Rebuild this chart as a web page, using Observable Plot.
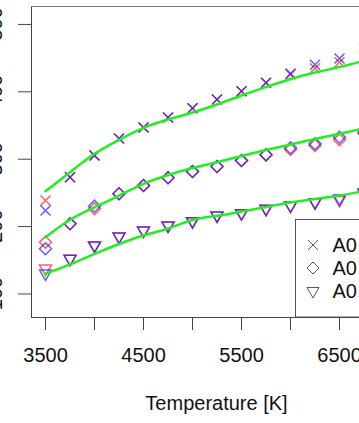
<!DOCTYPE html>
<html>
<head>
<meta charset="utf-8">
<script src="https://cdn.jsdelivr.net/npm/d3@7"></script>
<script src="https://cdn.jsdelivr.net/npm/@observablehq/plot@0.6"></script>
<style>
  html, body { margin: 0; padding: 0; background: #fff; overflow: hidden; }
  svg { overflow: hidden; display: block; }
</style>
</head>
<body>
<div id="chart"></div>
<script>
// ---- data ----
const temps = [3500, 3750, 4000, 4250, 4500, 4750, 5000, 5250, 5500, 5750, 6000, 6250, 6500, 6750];

// series "×"
const crossRed  = [238.7, 273.3, 305.5, 330.7, 347.0, 361.9, 375.7, 388.6, 400.9, 413.4, 425.7, 435.0, 443.9, 462.7];
const crossBlue = [223.9, 273.3, 305.5, 330.7, 347.0, 361.9, 375.7, 388.6, 400.9, 413.4, 427.2, 440.1, 449.4, 465.7];
const crossFit  = [252.5, 280.7, 308.0, 328.8, 346.6, 358.9, 369.3, 381.2, 394.5, 407.1, 419.0, 428.6, 436.8, 446.4];

// series "◇"
const diamRed  = [176.9, 204.2, 226.4, 248.7, 261.0, 272.4, 281.8, 289.2, 298.1, 306.5, 314.4, 320.3, 328.8, 338.1];
const diamBlue = [167.1, 204.2, 230.3, 248.7, 261.0, 272.4, 281.8, 289.2, 298.1, 306.5, 316.9, 322.9, 332.6, 340.1];
const diamFit  = [184.3, 210.1, 228.8, 246.1, 263.5, 276.6, 286.9, 295.6, 304.8, 313.7, 321.8, 330.0, 337.7, 345.6];

// series "▽"
const triRed  = [137.8, 152.2, 172.0, 185.3, 194.2, 201.6, 208.0, 216.5, 219.9, 226.4, 231.3, 236.2, 239.5, 249.1];
const triBlue = [130.4, 152.2, 172.0, 185.3, 194.2, 201.6, 208.0, 216.5, 219.9, 226.4, 231.3, 236.2, 242.1, 251.0];
const triFit  = [130.0, 143.8, 159.6, 174.2, 186.8, 197.2, 209.8, 216.0, 222.4, 229.1, 235.8, 241.0, 246.1, 252.8];

const xTicks = [3500, 4000, 4500, 5000, 5500, 6000, 6500, 7000];
const xTickLabels = [3500, 4500, 5500, 6500];
const yTicks = [100, 200, 300, 400, 500];
const xTitle = "Temperature [K]";
const legendLabels = ["A0", "A0", "A0"];

// ---- table ----
const rows = temps.map((T, i) => ({
  T,
  crossRed: crossRed[i], crossBlue: crossBlue[i], crossFit: crossFit[i],
  diamRed: diamRed[i], diamBlue: diamBlue[i], diamFit: diamFit[i],
  triRed: triRed[i], triBlue: triBlue[i], triFit: triFit[i]
}));

const FONT = "'Liberation Sans', Arial, Helvetica, sans-serif";
const RED = "#ff0000", BLUE = "#0000ff", GREEN = "#22ee22";
const op = 0.62, sw = 1.5;

const series = [
  {red: "crossRed", blue: "crossBlue", fit: "crossFit", symbol: "times", r: 4.62, rotate: 0},
  {red: "diamRed", blue: "diamBlue", fit: "diamFit", symbol: "diamond2", r: 5.4, rotate: 0},
  {red: "triRed", blue: "triBlue", fit: "triFit", symbol: "triangle2", r: 5.73, rotate: 180}
];

const pointMarks = [];
for (const s of series) {
  pointMarks.push(Plot.dot(rows, {x: "T", y: s.red, symbol: s.symbol, r: s.r, rotate: s.rotate,
    stroke: RED, strokeOpacity: op, strokeWidth: sw, fill: "none", clip: true}));
  pointMarks.push(Plot.dot(rows, {x: "T", y: s.blue, symbol: s.symbol, r: s.r, rotate: s.rotate,
    stroke: BLUE, strokeOpacity: op, strokeWidth: sw, fill: "none", clip: true}));
}
const lineMarks = series.map(s => Plot.line(rows, {x: "T", y: s.fit, stroke: GREEN,
  strokeWidth: 2.5, curve: "natural", clip: true}));

const xDomain = [3357, 6704];
const yDomain = [65.1, 526.6];

const plot = Plot.plot({
  width: 359,
  height: 423,
  marginLeft: 31,
  marginRight: 0,
  marginTop: 6,
  marginBottom: 106,
  style: {fontFamily: FONT, fontSize: "20px", color: "#444", background: "#fff", overflow: "hidden"},
  x: {domain: xDomain, ticks: xTicks, tickSize: 13, tickPadding: 17,
      tickFormat: d => xTickLabels.includes(d) ? String(d) : "", label: null},
  y: {domain: yDomain, ticks: yTicks, tickSize: 13, tickFormat: () => "", label: null},
  marks: [
    ...pointMarks,
    ...lineMarks,
    Plot.ruleX([xDomain[0]], {stroke: "#444", strokeWidth: 1}),
    Plot.ruleY([yDomain[0]], {stroke: "#444", strokeWidth: 1}),
    Plot.ruleY([yDomain[1]], {stroke: "#777", strokeWidth: 1}),
    Plot.text([xTitle], {frameAnchor: "bottom", dx: 21, dy: 92, lineAnchor: "bottom",
      fontSize: 20, fill: "#111"})
  ]
});

document.getElementById("chart").appendChild(plot);

const svg = d3.select(plot);
svg.selectAll("g[aria-label='x-axis tick label']").attr("fill", "#111");

// ---- y tick labels (rotated, R style), positioned with Plot's y scale ----
const yScale = plot.scale("y");
const yl = svg.append("g").attr("text-anchor", "middle")
  .attr("font-family", FONT).attr("font-size", 20).attr("fill", "#111");
yTicks.forEach(v => {
  yl.append("text").attr("transform", `translate(1.5,${yScale.apply(v)}) rotate(-90)`).text(String(v));
});

// ---- legend ----
const lg = svg.append("g");
lg.append("rect").attr("x", 295.5).attr("y", 219.5).attr("width", 100).attr("height", 97.5)
  .attr("fill", "#fff").attr("stroke", "#555").attr("stroke-width", 1);
const legSyms = [
  {type: d3.symbolTimes, size: 67, rot: 0},
  {type: d3.symbolDiamond2, size: 92, rot: 0},
  {type: d3.symbolTriangle2, size: 103, rot: 180}
];
legSyms.forEach((s, i) => {
  const cy = 245 + i * 23;
  lg.append("path").attr("d", d3.symbol(s.type, s.size)())
    .attr("transform", `translate(313,${cy}) rotate(${s.rot})`)
    .attr("fill", "none").attr("stroke", "#555").attr("stroke-width", 1);
  lg.append("text").attr("x", 332.5).attr("y", cy + 7).attr("text-anchor", "start")
    .text(legendLabels[i])
    .attr("font-family", FONT).attr("font-size", 20).attr("fill", "#111");
});
</script>
</body>
</html>
